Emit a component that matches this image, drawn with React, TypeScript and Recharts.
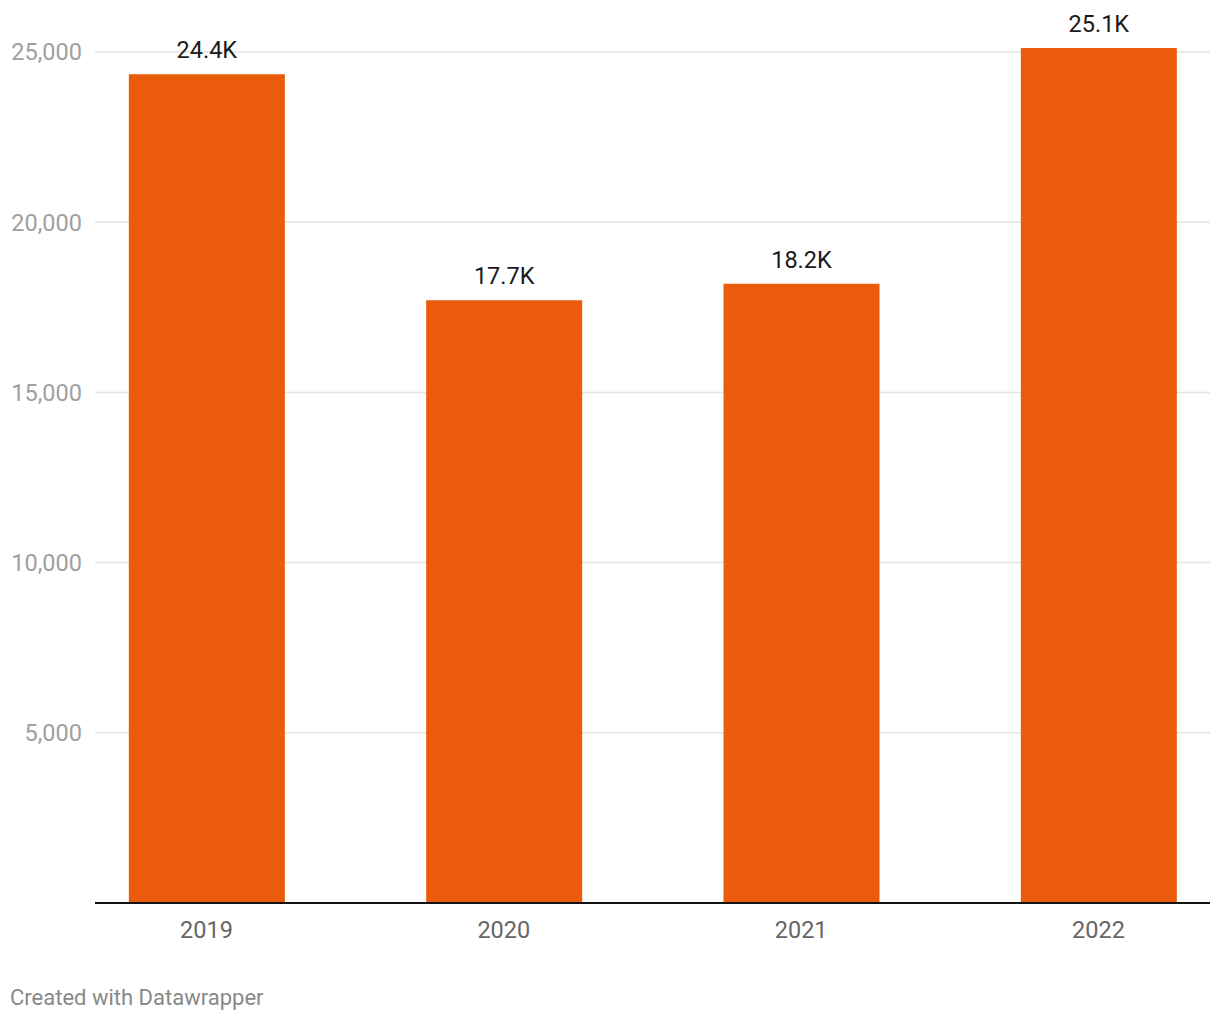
import { BarChart, Bar, XAxis, YAxis, CartesianGrid, LabelList } from 'recharts';

const years = ['2019', '2020', '2021', '2022'];
const values = [24350, 17710, 18190, 25120];
const yTicks = [5000, 10000, 15000, 20000, 25000];

const data = years.map((year, i) => ({ idx: i, year, value: values[i] }));

const fmtK = (v: number) => `${(v / 1000).toFixed(1)}K`;
const fmtThousands = (v: number) => v.toLocaleString('en-US');

const App = () => {
  return (
    <div
      style={{
        position: 'absolute',
        left: 0,
        top: 0,
        width: 1220,
        height: 1020,
        background: '#fff',
        fontFamily: 'Roboto, sans-serif',
      }}
    >
      <BarChart
        width={1220}
        height={960}
        data={data}
        margin={{ top: 1, right: 10, bottom: 17, left: 0 }}
      >
        {/* syncWithTicks keeps the grid to the labelled ticks only */}
        <CartesianGrid vertical={false} syncWithTicks stroke="#e3e3e3" strokeWidth={1.5} />
        <XAxis
          dataKey="idx"
          type="number"
          domain={[-0.375, 3.375]}
          ticks={[0, 1, 2, 3]}
          tickFormatter={(i: number) => years[i] ?? ''}
          height={40}
          tickLine={false}
          tickSize={0}
          tickMargin={18}
          axisLine={{ stroke: '#111', strokeWidth: 2 }}
          tick={{ fill: '#666', fontSize: 23.5 }}
          allowDecimals
        />
        <YAxis
          type="number"
          domain={[0, 26500]}
          ticks={yTicks}
          width={95}
          axisLine={false}
          tickLine={false}
          tickSize={0}
          tickMargin={13}
          tickFormatter={fmtThousands}
          tick={{ fill: '#a0a0a0', fontSize: 23.5 }}
        />
        <Bar dataKey="value" fill="#ea5b0c" barSize={156} isAnimationActive={false}>
          <LabelList
            dataKey="value"
            position="top"
            offset={16}
            formatter={(v: number) => fmtK(v)}
            style={{ fill: '#1a1a1a', fontSize: 23.5 }}
          />
        </Bar>
      </BarChart>
      <div
        style={{
          position: 'absolute',
          left: 10,
          top: 985,
          fontSize: 22,
          color: '#888',
        }}
      >
        Created with Datawrapper
      </div>
    </div>
  );
};

export default App;
